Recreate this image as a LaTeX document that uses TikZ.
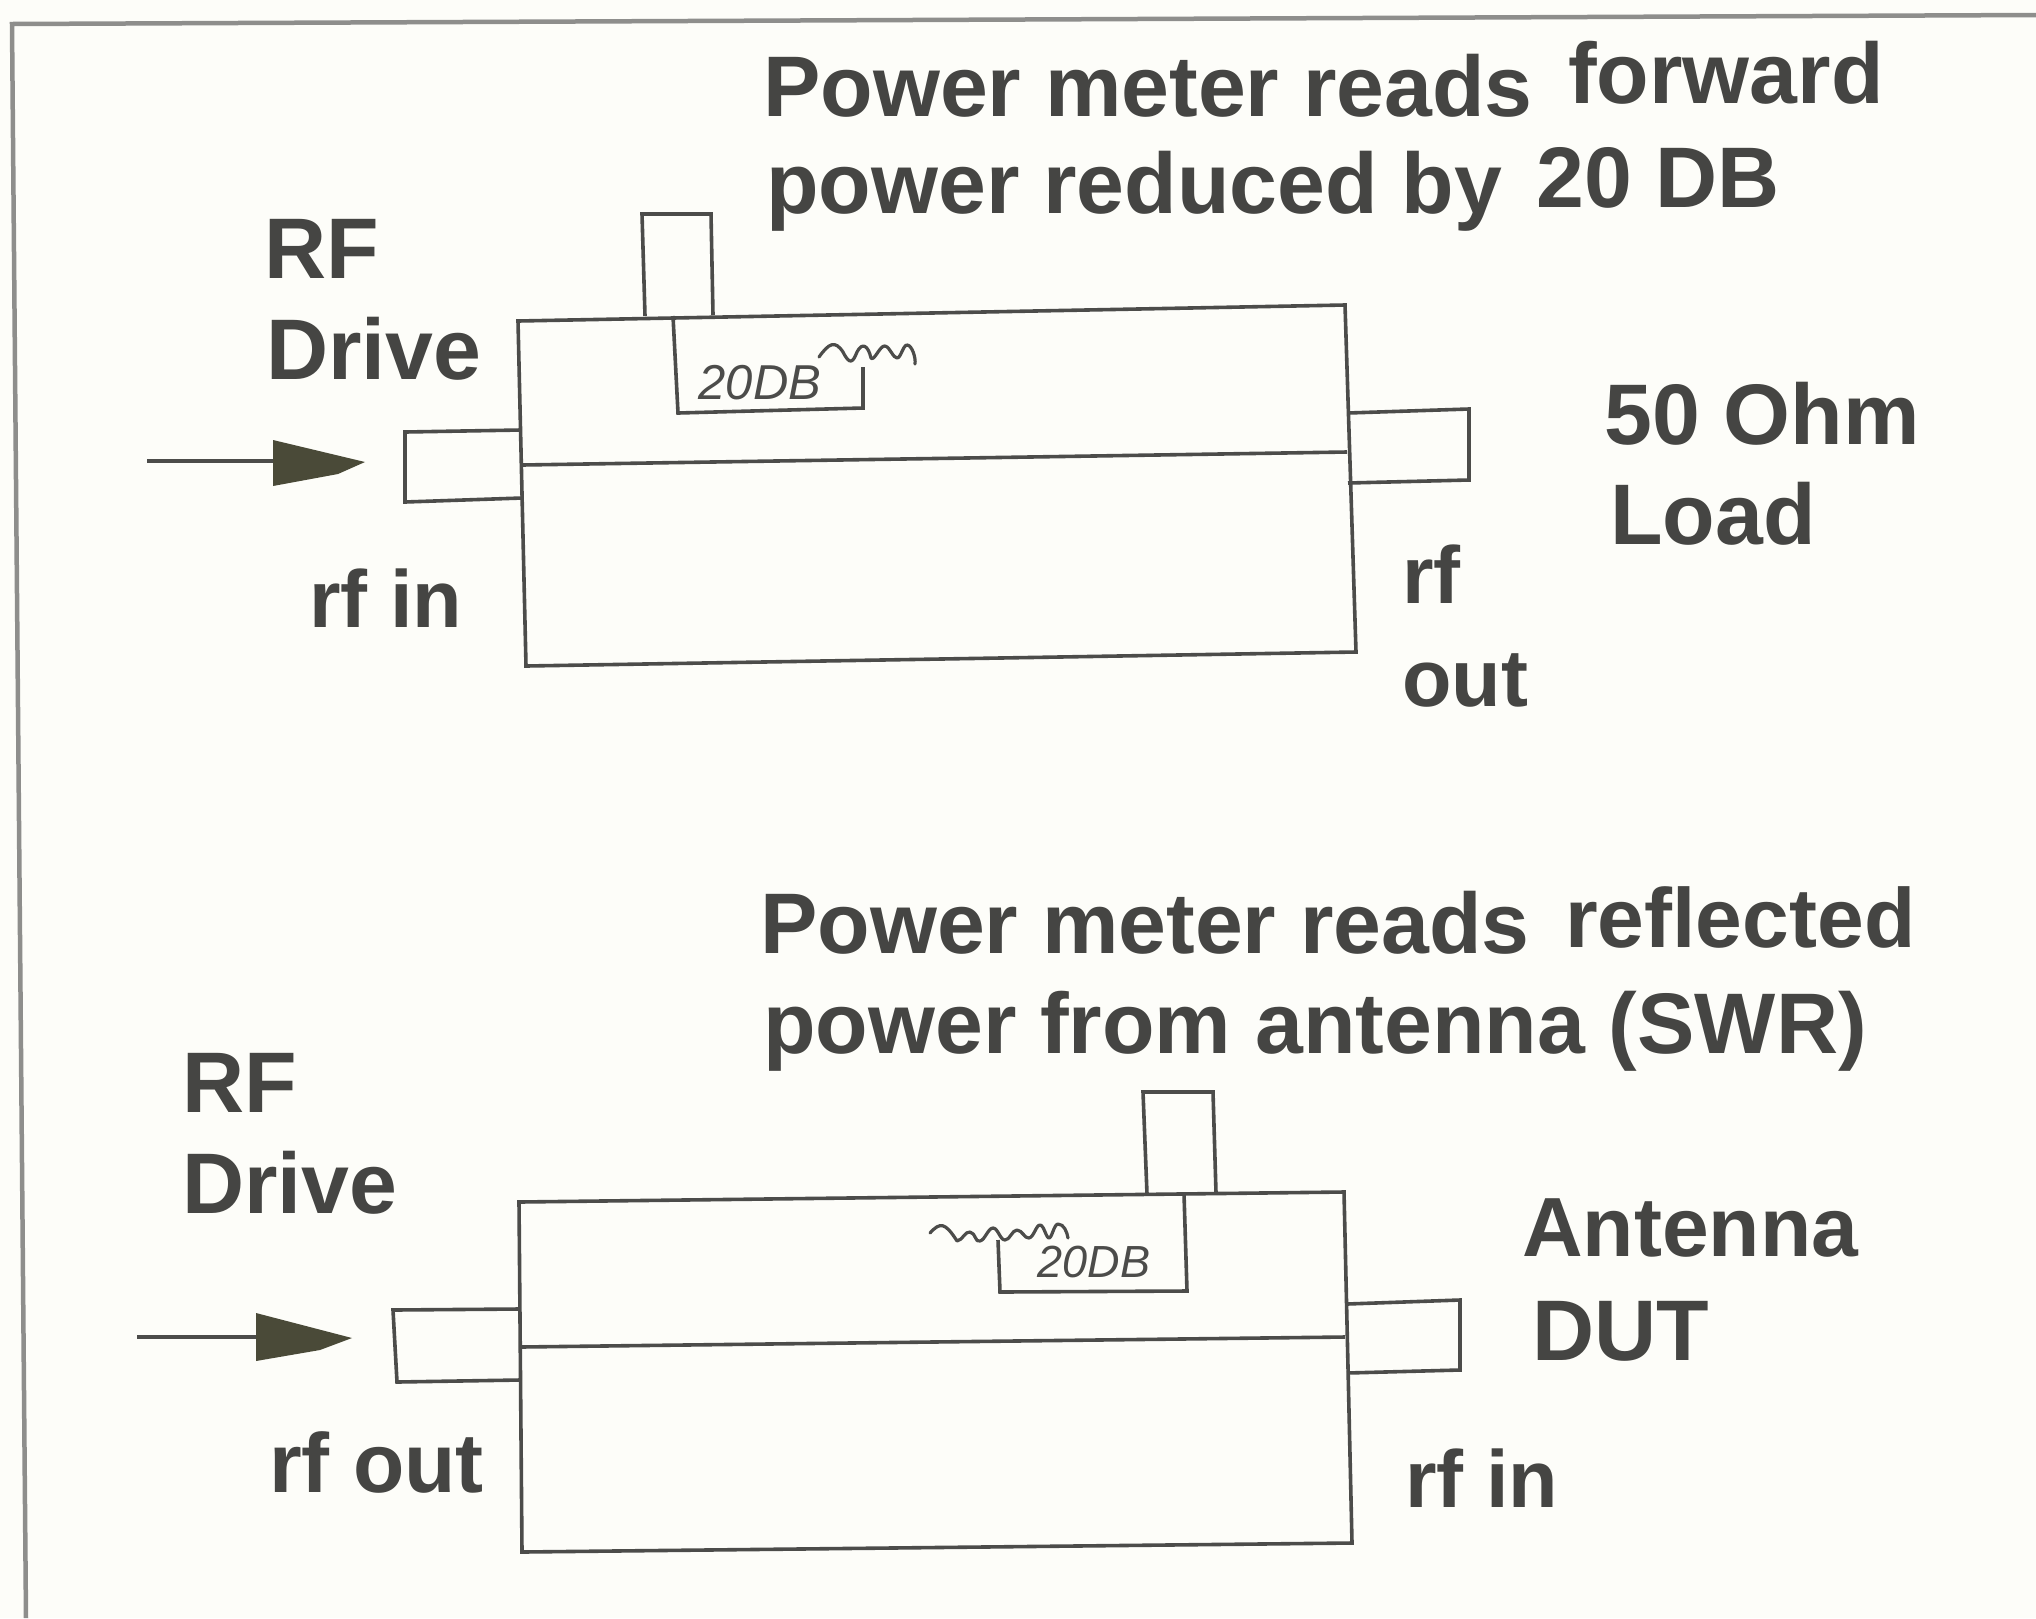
\documentclass[tikz,border=0pt]{standalone}
\usepackage{fontspec}
\setmainfont{Liberation Sans}
\begin{document}
\begin{tikzpicture}[x=1pt,y=-1pt,
  ln/.style={draw=inkc,line width=3.6pt,line join=miter},
  thin ln/.style={draw=inkc,line width=3.2pt,line join=round,line cap=round},
  lbl/.style={anchor=base west,inner sep=0pt,text=txtc,font=\fontsize{86}{86}\selectfont\bfseries},
  lblsm/.style={lbl,font=\fontsize{81}{81}\selectfont\bfseries},
  lblmd/.style={lbl,font=\fontsize{84}{84}\selectfont\bfseries},
  hand/.style={inner sep=0pt,text=inkc,font=\fontsize{49}{49}\selectfont\itshape},
  handb/.style={hand,font=\fontsize{45}{45}\selectfont\itshape},
  head/.style={fill=headc,draw=none}]
\definecolor{inkc}{HTML}{4C4C4A}
\definecolor{txtc}{HTML}{454543}
\definecolor{headc}{HTML}{4A4A38}
\definecolor{framec}{HTML}{8E8E8C}
\definecolor{paperc}{HTML}{FDFDF9}
\useasboundingbox (0,0) rectangle (2036,1618);
\fill[paperc] (0,0) rectangle (2036,1618);
% frame
\draw[framec,line width=4.5pt] (2036,15) -- (12,24) -- (26,1618);
% top coupler
\draw[ln] (518,321) -- (1345,305) -- (1356,652) -- (526,666) -- cycle;
\draw[ln] (522,465) -- (1347,452);
\draw[ln] (645,316) -- (642,214) -- (711,214) -- (713,315);
\draw[ln] (521,430) -- (405,432) -- (405,502) -- (522,498);
\draw[ln] (1348,413) -- (1469,409) -- (1469,480) -- (1348,483);
\draw[ln] (673,316) -- (678,413) -- (863,408) -- (863,367);
\draw[thin ln] (819,357) .. controls (829,343) and (835,340) .. (843,352) .. controls (850,366) and (853,362) .. (857,352)
 .. controls (862,342) and (868,345) .. (871,358) .. controls (874,362) and (880,345) .. (885,346)
 .. controls (890,347) and (893,358) .. (897,358) .. controls (901,358) and (903,345) .. (907,345) .. controls (912,345) and (916,358) .. (915,364);
\node[hand] (dbtop) at (760,383) {20DB};
\coordinate (atail) at (147,461);
\coordinate (abase) at (273,461);
\draw[ln] (atail) -- (abase);
\fill[head] (273,440) -- (365,462) -- (338,474) -- (273,486) -- cycle;
% bottom coupler
\draw[ln] (519,1202) -- (1344,1192) -- (1352,1543) -- (522,1552) -- cycle;
\draw[ln] (520,1347) -- (1345,1337);
\draw[ln] (1147,1194) -- (1143,1092) -- (1213,1092) -- (1216,1193);
\draw[ln] (519,1309) -- (393,1310) -- (397,1382) -- (520,1380);
\draw[ln] (1347,1304) -- (1460,1300) -- (1460,1370) -- (1347,1373);
\draw[ln] (1184,1194) -- (1187,1291) -- (1000,1292) -- (998,1240);
\draw[thin ln] (930,1233) .. controls (940,1222) and (945,1222) .. (957,1241) .. controls (963,1240) and (965,1231) .. (970,1232)
 .. controls (976,1233) and (975,1243) .. (980,1241) .. controls (985,1240) and (988,1228) .. (993,1228) .. controls (998,1228) and (1000,1240) .. (1005,1240)
 .. controls (1010,1240) and (1012,1230) .. (1017,1230) .. controls (1022,1230) and (1025,1239) .. (1029,1238) .. controls (1034,1237) and (1036,1225) .. (1040,1225)
 .. controls (1044,1225) and (1046,1238) .. (1049,1238) .. controls (1052,1238) and (1054,1224) .. (1058,1224) .. controls (1064,1224) and (1067,1232) .. (1068,1238);
\node[handb] (dbbot) at (1094,1262) {20DB};
\coordinate (btail) at (137,1337);
\coordinate (bbase) at (256,1337);
\draw[ln] (btail) -- (bbase);
\fill[head] (256,1313) -- (352,1338) -- (320,1350) -- (256,1361) -- cycle;
% labels
\node[lbl] (t1a) at (763,116) {Power meter reads};
\node[lbl] (t1b) at (1568,103) {forward};
\node[lbl] (t2a) at (766,213) {power reduced by};
\node[lbl] (t2b) at (1536,207) {20 DB};
\node[lbl] (t3) at (264,278) {RF};
\node[lbl] (t4) at (266,379) {Drive};
\node[lbl] (t5) at (1604,444) {50 Ohm};
\node[lbl] (t6) at (1610,544) {Load};
\node[lblsm] (t7) at (309,627) {rf in};
\node[lblsm] (t8) at (1402,603) {rf};
\node[lblsm] (t9) at (1402,706) {out};
\node[lbl] (u1a) at (760,953) {Power meter reads};
\node[lblmd] (u1b) at (1565,947) {reflected};
\node[lbl] (u2) at (763,1053) {power from antenna (SWR)};
\node[lbl] (u3) at (182,1112) {RF};
\node[lbl] (u4) at (182,1213) {Drive};
\node[lblmd] (u5) at (1522,1256) {Antenna};
\node[lbl] (u6) at (1532,1360) {DUT};
\node[lblmd] (u7) at (269,1492) {rf out};
\node[lblsm] (u8) at (1405,1507) {rf in};
\end{tikzpicture}
\end{document}
